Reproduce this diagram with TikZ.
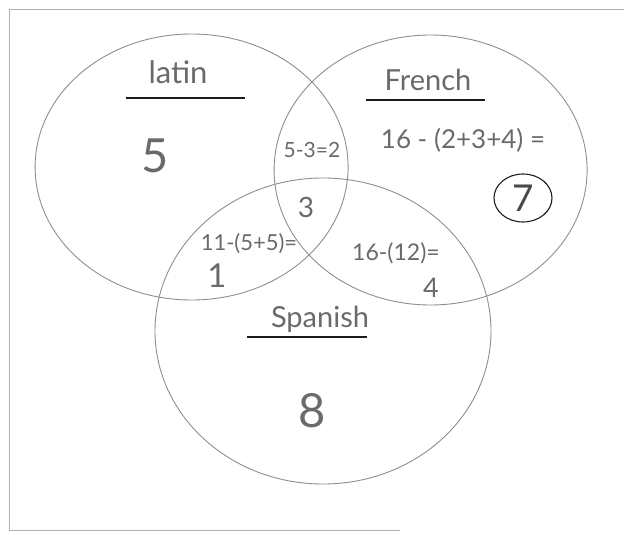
\documentclass[tikz,border=0pt]{standalone}
\usepackage{fontspec}
\setmainfont{Lato}
\usetikzlibrary{shapes.geometric, positioning, calc}
\usepackage{xcolor}
\definecolor{Pencil}{HTML}{8E8E8E}
\definecolor{Graphite}{HTML}{6A6A6A}
\definecolor{Ink}{HTML}{1C1C1C}

\begin{document}
\begin{tikzpicture}[
            x=1pt, y=-1pt,
            set/.style={
                ellipse,
                draw=Pencil,
                line width=0.9pt,
                inner sep=0pt
            },
            title/.style={font=\fontsize{29}{29}\selectfont, text=Graphite, inner sep=0pt, anchor=base},
            count/.style={font=\fontsize{#1}{#1}\selectfont, text=Graphite, inner sep=0pt, anchor=base},
            working/.style={font=\fontsize{#1}{#1}\selectfont, text=Graphite, inner sep=0pt, anchor=base},
            rule/.style={line width=1.7pt, color=Ink},
            frame/.style={line width=0.8pt, color=Pencil!70}
        ]
            \useasboundingbox (0,0) rectangle (624,535);
            \draw[frame] (624,9) -- (9,9) -- (9,530) -- (400,530);

            % The three sets
            \node[set, minimum width=313, minimum height=266] (latinset) at (191.6,167) {};
            \node[set, minimum width=313, minimum height=270] (frenchset) at (430.6,170) {};
            \node[set, minimum width=336, minimum height=306] (spanishset) at (323,331) {};

            % Titles
            \node[title, font=\fontsize{31}{31}\selectfont] (latin) at (178,84) {latin};
            \node[title] (french) at (428,90) {French};
            \node[title] (spanish) at (320,327) {Spanish};

            \coordinate (latinL) at (126,98);   \coordinate (latinR) at (245,98);
            \coordinate (frenchL) at (366,100); \coordinate (frenchR) at (485,100);
            \coordinate (spanishL) at (247,337); \coordinate (spanishR) at (367,337);
            \draw[rule] (latinL) -- (latinR);
            \draw[rule] (frenchL) -- (frenchR);
            \draw[rule] (spanishL) -- (spanishR);

            % Region counts
            \node[count=47] (onlylatin) at (155,172) {5};
            \node[working=21] (lfwork) at (312,157) {5-3=2};
            \node[count=28] (all) at (306,217) {3};
            \node[working=26] (frwork) at (463,148) {16 - (2+3+4) =};
            \node[count=37, anchor=center, ellipse, draw=Ink, line width=1.1pt, text=Ink!80,
                  minimum width=58, minimum height=48] (onlyfrench) at (523,198) {7};
            \node[working=22] (lswork) at (249,250) {11-(5+5)=};
            \node[count=33] (latspan) at (217,287) {1};
            \node[working=23] (fswork) at (396,260) {16-(12)=};
            \node[count=27] (frspan) at (431,297) {4};
            \node[count=47] (onlyspanish) at (312,427) {8};
        \end{tikzpicture}
\end{document}
